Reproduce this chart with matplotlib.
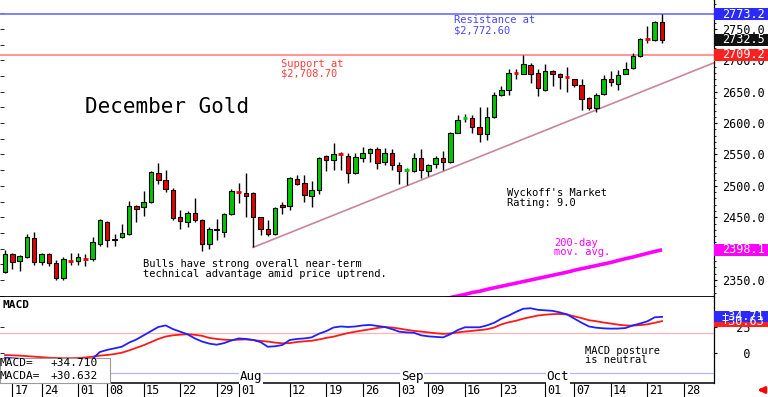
import matplotlib
matplotlib.use('Agg')
import matplotlib.pyplot as plt
import matplotlib.transforms as mtransforms
from matplotlib.patches import Rectangle
from matplotlib.ticker import MultipleLocator, FormatStrFormatter
import numpy as np
import pandas as pd


# Size of the image (pixels, saved at 100 dpi)
WIDTH = 768
HEIGHT = 397
DPI = 100

# Panel borders in pixels from the top-left corner
PLOT_RIGHT = 714
PRICE_BOTTOM = 297
MACD_BOTTOM = 383

# Visible ranges (x in trading-day index)
XMIN, XMAX = -0.685, 97.12
PRICE_MIN, PRICE_MAX = 2322.9, 2796.2
MACD_MIN, MACD_MAX = -28.8, 53.8

# Trading calendar
FIRST_DAY = '2024-06-14'
CALENDAR_END = '2024-11-01'
HOLIDAYS = ['2024-06-19', '2024-07-04', '2024-09-02']

# December gold daily bars, 2024-06-14 .. 2024-10-23
OPEN = [2363, 2391, 2380, 2387, 2417, 2378, 2391, 2377, 2353, 2381,
        2380, 2385, 2383, 2407, 2442, 2414, 2418, 2424, 2468, 2467,
        2474, 2521, 2510, 2494, 2450, 2443, 2456, 2446, 2408, 2432,
        2427, 2455, 2491, 2489, 2489, 2450, 2431, 2423, 2470, 2468,
        2511, 2504, 2484, 2493, 2548, 2541, 2551, 2548, 2520, 2544,
        2553, 2558, 2538, 2552, 2534, 2524, 2524, 2545, 2524, 2535,
        2544, 2538, 2585, 2607, 2608, 2594, 2583, 2610, 2645, 2652,
        2681, 2679, 2693, 2680, 2653, 2683, 2678, 2674, 2670, 2661,
        2640, 2624, 2646, 2671, 2662, 2679, 2688, 2707, 2735, 2733,
        2761]
HIGH = [2398, 2393, 2390, 2424, 2426, 2393, 2393, 2382, 2386, 2393,
        2393, 2392, 2418, 2447, 2444, 2424, 2439, 2476, 2470, 2492,
        2523, 2537, 2526, 2496, 2461, 2460, 2480, 2447, 2435, 2447,
        2456, 2495, 2505, 2521, 2490, 2451, 2446, 2466, 2475, 2514,
        2517, 2517, 2507, 2546, 2549, 2569, 2554, 2552, 2553, 2562,
        2561, 2562, 2560, 2558, 2538, 2528, 2553, 2558, 2535, 2547,
        2556, 2586, 2613, 2614, 2613, 2625, 2625, 2650, 2659, 2687,
        2687, 2708.7, 2696, 2686, 2694, 2684, 2680, 2689, 2671, 2670,
        2641, 2648, 2677, 2683, 2684, 2698, 2712, 2735, 2754, 2762,
        2773.2]
LOW = [2361, 2367, 2364, 2385, 2374, 2374, 2372, 2350, 2350, 2374,
       2374, 2372, 2380, 2404, 2402, 2404, 2417, 2422, 2442, 2452,
       2472, 2503, 2490, 2446, 2431, 2435, 2442, 2397, 2399, 2413,
       2419, 2453, 2472, 2451, 2402, 2422, 2420, 2421, 2455, 2461,
       2501, 2475, 2467, 2487, 2523, 2526, 2526, 2505, 2519, 2538,
       2538, 2527, 2533, 2525, 2503, 2501, 2522, 2512, 2516, 2528,
       2526, 2537, 2584, 2601, 2585, 2570, 2573, 2608, 2643, 2645,
       2671, 2678, 2664, 2644, 2651, 2659, 2655, 2650, 2657, 2621,
       2621, 2618, 2645, 2659, 2653, 2678, 2687, 2706, 2727, 2731,
       2728]
CLOSE = [2392, 2379, 2388, 2418, 2378, 2391, 2377, 2353, 2383, 2380,
         2386, 2384, 2410, 2446, 2413, 2416, 2425, 2468, 2463, 2474,
         2522, 2510, 2495, 2449, 2444, 2457, 2445, 2408, 2432, 2429,
         2455, 2492, 2490, 2484, 2450, 2431, 2423, 2465, 2466, 2512,
         2503, 2485, 2493, 2544, 2541, 2550, 2550, 2520, 2546, 2552,
         2559, 2537, 2553, 2534, 2524, 2525, 2545, 2525, 2533, 2544,
         2538, 2585, 2605, 2608, 2594, 2583, 2610, 2645, 2652, 2680,
         2680, 2694, 2678, 2656, 2683, 2678, 2674, 2673, 2660, 2638,
         2624, 2645, 2671, 2666, 2677, 2687, 2707, 2734, 2734, 2761,
         2732.5]

# 200-day moving average (only the visible tail)
MA200_FIRST_DAY = '2024-09-09'
MA200 = [2314, 2316.5, 2319, 2322, 2324.5, 2327, 2330, 2332, 2335, 2337.5,
         2340, 2342.5, 2345, 2347.5, 2350, 2352.5, 2355, 2357.5, 2360, 2362.5,
         2365.5, 2368, 2370.5, 2373, 2375.5, 2378, 2381, 2384, 2386.5, 2389.5,
         2392.5, 2395.5, 2398.1]

# MACD line and its signal (MACDA)
MACD = [-4.5, -5, -5.5, -6, -6.5, -7, -7.5, -8, -8, -8,
        -7.5, -7, -5.5, 1, 3, 4.5, 6, 10, 13, 17,
        21, 25, 26.5, 23, 20.5, 18, 14, 11, 9, 8,
        9.5, 12, 14, 13.5, 12.5, 10.5, 6, 6.5, 7.7, 12.5,
        13.5, 14, 15, 18.5, 21, 24.5, 25.5, 25, 25.5, 26.5,
        27, 26, 25, 23, 20.5, 19.8, 19.5, 17, 16, 15.5,
        15, 18, 22, 24.7, 24.7, 24.7, 26.5, 29, 33, 36,
        39.5, 42.5, 43, 41.5, 41, 40.5, 39, 37, 33, 29,
        25.5, 24.3, 23.7, 23.4, 23.5, 24, 26.5, 28.3, 30.5, 34.3,
        34.71]
MACDA = [-2, -2.2, -2.5, -3, -3.5, -4, -4.5, -4.8, -5, -5,
         -4.8, -4.3, -3.5, -2.5, -1.9, -1, 0.3, 2.5, 5, 7.5,
         10.5, 13.5, 15.8, 17, 17.6, 18, 17.5, 16.5, 14.5, 13.5,
         12.8, 12.5, 12.8, 13.1, 12.5, 11.6, 11, 10, 9.3, 9.5,
         10.6, 11.2, 11.8, 13, 14.5, 15.7, 17.5, 19.2, 20.5, 21.7,
         22.8, 24, 25, 24.5, 23.5, 22.3, 21.3, 20.6, 19.8, 19,
         18.4, 18.8, 19.8, 20.6, 21.3, 22, 22.8, 24.5, 27.5, 29.5,
         31, 33, 34.5, 36, 36.8, 37.3, 37.5, 37, 35.2, 33.5,
         31.5, 30.5, 29.3, 28.3, 27.2, 26.5, 26.3, 26.8, 27.6, 29,
         30.632]
MACD_LEVEL = 19

# Key levels
RESISTANCE = 2773.2
SUPPORT = 2709.2
LAST_CLOSE = 2732.5
TREND_START = ('2024-08-05', 2402)
TREND_END = ('2024-10-23', 2663)

# Date axis
TICK_DATES = ['2024-06-17', '2024-06-24', '2024-07-01', '2024-07-08',
              '2024-07-15', '2024-07-22', '2024-07-29', '2024-08-01',
              '2024-08-12', '2024-08-19', '2024-08-26', '2024-09-03',
              '2024-09-09', '2024-09-16', '2024-09-23', '2024-10-01',
              '2024-10-07', '2024-10-14', '2024-10-21', '2024-10-28']
MONTH_DATES = ['2024-08-01', '2024-09-03', '2024-10-01']
MONTH_LABELS = ['Aug', 'Sep', 'Oct']

GREEN = '#00c800'
RED = '#e80000'
AXIS_FONT = 8.5


def make_calendar():
    """Trading days as a DatetimeIndex."""
    days = pd.bdate_range(FIRST_DAY, CALENDAR_END)
    return days.drop(pd.to_datetime(HOLIDAYS))


def day_index(calendar, day):
    return calendar.get_loc(pd.Timestamp(day))


def value_box(ax, value, label, color, px_per_unit, height_px=12):
    """Coloured price tag on the right axis."""
    trans = mtransforms.blended_transform_factory(ax.transAxes, ax.transData)
    half = height_px / 2.0 / px_per_unit
    right = WIDTH / PLOT_RIGHT
    ax.add_patch(Rectangle((1.0, value - half), right - 1.0, 2 * half,
                           transform=trans, facecolor=color,
                           edgecolor='none', clip_on=False, zorder=5))
    ax.text(1.0 + 8.0 / PLOT_RIGHT, value, label, transform=trans,
            color='white', fontsize=AXIS_FONT, va='center', ha='left',
            clip_on=False, zorder=6)


def draw_price(ax, calendar):
    o = np.array(OPEN)
    h = np.array(HIGH)
    l = np.array(LOW)
    c = np.array(CLOSE)
    x = np.arange(len(o))

    # Candles
    ax.vlines(x, l, h, color='black', linewidth=1, zorder=3)
    doji = np.abs(c - o) < 1.5
    colors = np.where(c >= o, GREEN, RED)
    body = ~doji
    ax.bar(x[body], np.abs(c - o)[body], bottom=np.minimum(o, c)[body],
           width=0.62, color=colors[body], edgecolor='black',
           linewidth=0.8, zorder=4)
    ax.hlines(c[doji], x[doji] - 0.32, x[doji] + 0.32,
              colors=colors[doji], linewidth=2, zorder=4)

    # Horizontal levels and trend line
    ax.axhline(RESISTANCE, color='#7777ff', linewidth=1.3, zorder=2)
    ax.axhline(SUPPORT, color='#ff8c8c', linewidth=1.3, zorder=2)

    x0 = day_index(calendar, TREND_START[0])
    x1 = day_index(calendar, TREND_END[0])
    slope = (TREND_END[1] - TREND_START[1]) / (x1 - x0)
    ax.plot([x0, XMAX], [TREND_START[1], TREND_START[1] + slope * (XMAX - x0)],
            color='#c9869f', linewidth=1.2, zorder=2)

    # 200-day moving average
    ma_start = day_index(calendar, MA200_FIRST_DAY)
    ax.plot(np.arange(ma_start, ma_start + len(MA200)), MA200,
            color='#ff00ff', linewidth=2.6, zorder=2, solid_capstyle='butt')

    ax.set_xlim(XMIN, XMAX)
    ax.set_ylim(PRICE_MIN, PRICE_MAX)

    # Right axis
    ax.yaxis.tick_right()
    ax.yaxis.set_major_locator(MultipleLocator(50))
    ax.yaxis.set_minor_locator(MultipleLocator(10))
    ax.yaxis.set_major_formatter(FormatStrFormatter('%.1f'))
    ax.tick_params(axis='y', which='major', direction='out', length=2.5,
                   width=0.8, pad=3.5, labelsize=AXIS_FONT)
    ax.tick_params(axis='y', which='minor', direction='out', length=1.5,
                   width=0.6)
    ax.tick_params(axis='x', bottom=False, labelbottom=False)

    left = ax.secondary_yaxis('left')
    left.yaxis.set_major_locator(MultipleLocator(25))
    left.tick_params(direction='in', length=3, width=0.6, labelleft=False)
    left.spines['left'].set_visible(False)

    for side in ('top', 'left'):
        ax.spines[side].set_visible(False)
    ax.spines['bottom'].set_linewidth(1.3)
    ax.spines['right'].set_linewidth(0.9)

    # Annotations
    ax.text(10.96, 2625, 'December Gold', fontsize=15, va='center', ha='left')
    ax.text(61.5, 2756, 'Resistance at\n$2,772.60', color='#4646ff',
            fontsize=7.5, va='center', ha='left', linespacing=0.95)
    ax.text(37.77, 2686, 'Support at\n$2,708.70', color='#ff3c3c',
            fontsize=7.5, va='center', ha='left', linespacing=0.95)
    ax.text(18.95, 2367.5, 'Bulls have strong overall near-term\n'
            'technical advantage amid price uptrend.',
            fontsize=7.5, va='center', ha='left', linespacing=0.95)
    ax.text(68.8, 2481, "Wyckoff's Market\nRating: 9.0",
            fontsize=7.5, va='center', ha='left', linespacing=0.95)
    ax.text(75.2, 2402, '200-day\nmov. avg.', color='#ff00ff',
            fontsize=7.5, va='center', ha='left', linespacing=0.95)

    # Price tags
    ppu = PRICE_BOTTOM / (PRICE_MAX - PRICE_MIN)
    value_box(ax, RESISTANCE, '%.1f' % RESISTANCE, '#2a2aff', ppu)
    value_box(ax, LAST_CLOSE, '%.1f' % LAST_CLOSE, '#111111', ppu)
    value_box(ax, SUPPORT, '%.1f' % SUPPORT, '#ff2020', ppu)
    value_box(ax, MA200[-1], '%.1f' % MA200[-1], '#ff00ff', ppu)


def draw_macd(ax, calendar):
    x = np.arange(len(MACD))
    ax.axhline(MACD_LEVEL, color='#ffb4b4', linewidth=0.9, zorder=1)
    ax.axhline(-MACD_LEVEL, color='#b4b4ff', linewidth=0.9, zorder=1)
    ax.plot(x, MACDA, color='#ff1a1a', linewidth=1.3, zorder=3)
    ax.plot(x, MACD, color='#2020ff', linewidth=1.3, zorder=3)

    ax.set_xlim(XMIN, XMAX)
    ax.set_ylim(MACD_MIN, MACD_MAX)

    ax.yaxis.tick_right()
    ax.set_yticks([0, 25])
    ax.set_yticklabels(['   0', '  25'])
    ax.tick_params(axis='y', direction='out', length=2.5, width=0.8, pad=3.5,
                   labelsize=AXIS_FONT)
    left = ax.secondary_yaxis('left')
    left.set_yticks([0, 25])
    left.tick_params(direction='in', length=3, width=0.6, labelleft=False)
    left.spines['left'].set_visible(False)

    for side in ('top', 'left'):
        ax.spines[side].set_visible(False)
    ax.spines['bottom'].set_linewidth(1.1)
    ax.spines['right'].set_linewidth(0.9)

    # Date ticks: separators below the panel, labels to their right
    ticks = [day_index(calendar, d) for d in TICK_DATES]
    ax.set_xticks(ticks)
    ax.set_xticklabels([])
    ax.tick_params(axis='x', direction='out', length=10.5, width=0.8)
    below = mtransforms.blended_transform_factory(ax.transData, ax.transAxes)
    panel = MACD_BOTTOM - PRICE_BOTTOM
    for pos, day in zip(ticks, TICK_DATES):
        ax.text(pos + 0.3, -7.0 / panel, pd.Timestamp(day).strftime('%d'),
                transform=below, fontsize=8.5, va='center', ha='left',
                clip_on=False)
    for day, label in zip(MONTH_DATES, MONTH_LABELS):
        ax.text(day_index(calendar, day) + 0.2, 6.5 / panel, label,
                transform=below, fontsize=9, va='center', ha='left',
                zorder=4, bbox=dict(facecolor='white', edgecolor='none',
                                    pad=0.5))

    ax.text(-0.3, 46, 'MACD', fontsize=8, fontweight='bold',
            va='center', ha='left')
    ax.text(79.45, -2.2, 'MACD posture\nis neutral', fontsize=7.5,
            va='center', ha='left', linespacing=0.95)

    # Readout box in the lower-left corner
    ax.add_patch(Rectangle((0, 0), 110.0 / PLOT_RIGHT, 25.0 / panel,
                           transform=ax.transAxes, facecolor='white',
                           edgecolor='#9a9a9a', linewidth=0.8, zorder=5,
                           clip_on=False))
    for row, (name, value) in enumerate([('MACD=', MACD[-1]),
                                         ('MACDA=', MACDA[-1])]):
        y = (20.3 - 13.3 * row) / panel
        ax.text(0.0, y, name, transform=ax.transAxes, fontsize=8,
                va='center', ha='left', zorder=6)
        ax.text(51.0 / PLOT_RIGHT, y, '%+.3f' % value,
                transform=ax.transAxes, fontsize=8, va='center',
                ha='left', zorder=6)

    ppu = panel / (MACD_MAX - MACD_MIN)
    value_box(ax, MACDA[-1], '%+.2f' % MACDA[-1], '#ff2020', ppu, 11)
    value_box(ax, MACD[-1], '%+.2f' % MACD[-1], '#2a2aff', ppu, 11)


def main():
    plt.rcParams['font.family'] = 'DejaVu Sans Mono'
    calendar = make_calendar()

    fig = plt.figure(figsize=(WIDTH / DPI, HEIGHT / DPI), dpi=DPI)
    fig.patch.set_facecolor('white')

    plot_w = PLOT_RIGHT / WIDTH
    ax_price = fig.add_axes([0, 1 - PRICE_BOTTOM / HEIGHT, plot_w,
                             PRICE_BOTTOM / HEIGHT])
    ax_macd = fig.add_axes([0, 1 - MACD_BOTTOM / HEIGHT, plot_w,
                            (MACD_BOTTOM - PRICE_BOTTOM) / HEIGHT])

    draw_price(ax_price, calendar)
    draw_macd(ax_macd, calendar)

    # Small red arrow in the bottom-right corner
    ax_macd.annotate('', xy=(755, 7), xytext=(766, 7),
                     xycoords='figure pixels', textcoords='figure pixels',
                     arrowprops=dict(arrowstyle='-|>', color='red', lw=2,
                                     mutation_scale=9))

    fig.savefig('out.png', dpi=DPI)
    plt.close('all')


if __name__ == '__main__':
    main()
